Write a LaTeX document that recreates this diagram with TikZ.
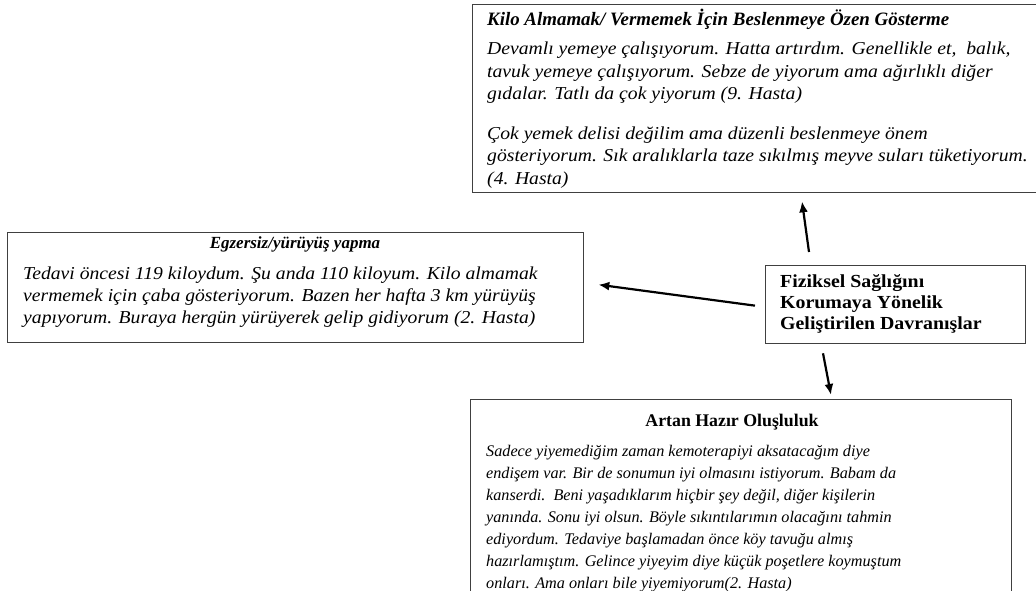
\documentclass[tikz,border=0pt]{standalone}
\usepackage{fontspec}
\setmainfont{Liberation Serif}
\newfontfamily\wideserif[FakeStretch=1.08]{Liberation Serif}
\usetikzlibrary{arrows.meta,calc}
\begin{document}
\begin{tikzpicture}[x=1pt,y=-1pt,
  box/.style={draw=black!75,line width=1.3pt,inner sep=0pt,anchor=north west},
  ln/.style={anchor=base west,inner sep=0pt,font=\wideserif\fontsize{18.2}{22}\selectfont\itshape},
  lns/.style={anchor=base west,inner sep=0pt,font=\fontsize{16.2}{22}\selectfont\itshape},
  hd/.style={anchor=base,inner sep=0pt,font=\fontsize{17.8}{22}\selectfont\bfseries},
  hdl/.style={anchor=base,inner sep=0pt,font=\fontsize{17}{22}\selectfont\bfseries\itshape},
  hdi/.style={anchor=base west,inner sep=0pt,font=\fontsize{18.9}{22}\selectfont\bfseries\itshape},
  cl/.style={anchor=base west,inner sep=0pt,font=\wideserif\fontsize{18.4}{22}\selectfont\bfseries},
  arr/.style={line width=2.2pt,-{Latex[length=11pt,width=9pt]}}]
\useasboundingbox (0,0) rectangle (1036,590);
\clip (0,0) rectangle (1036,590);
% boxes
\node[box,minimum width=580pt,minimum height=188pt] (top) at (472,4) {};
\node[box,minimum width=576pt,minimum height=110pt] (left) at (7,232) {};
\node[box,minimum width=260pt,minimum height=78pt] (c) at (765,265) {};
\node[box,minimum width=541pt,minimum height=220pt] (bot) at (470,399) {};
% top box text
\node[hdi] (t0) at (487,25) {Kilo Almamak/ Vermemek İçin Beslenmeye Özen Gösterme};
\node[ln] (t1) at (487,54) {Devamlı yemeye çalışıyorum. Hatta artırdım. Genellikle et,\ \ balık,};
\node[ln] (t2) at (487,77) {tavuk yemeye çalışıyorum. Sebze de yiyorum ama ağırlıklı diğer};
\node[ln] (t3) at (487,99) {gıdalar. Tatlı da çok yiyorum (9. Hasta)};
\node[ln] (t4) at (487,139) {Çok yemek delisi değilim ama düzenli beslenmeye önem};
\node[ln] (t5) at (487,161) {gösteriyorum. Sık aralıklarla taze sıkılmış meyve suları tüketiyorum.};
\node[ln] (t6) at (487,184) {(4. Hasta)};
% left box text
\node[hdl] (l0) at (295,248) {Egzersiz/yürüyüş yapma};
\node[ln] (l1) at (23,279) {Tedavi öncesi 119 kiloydum. Şu anda 110 kiloyum. Kilo almamak};
\node[ln] (l2) at (23,301) {vermemek için çaba gösteriyorum. Bazen her hafta 3 km yürüyüş};
\node[ln] (l3) at (23,323) {yapıyorum. Buraya hergün yürüyerek gelip gidiyorum (2. Hasta)};
% center box text
\node[cl] (c1) at (780,287) {Fiziksel Sağlığını};
\node[cl] (c2) at (780,308) {Korumaya Yönelik};
\node[cl] (c3) at (780,329) {Geliştirilen Davranışlar};
% bottom box text
\node[hd] (b0) at (732,426) {Artan Hazır Oluşluluk};
\node[lns] (b1) at (486,456) {Sadece yiyemediğim zaman kemoterapiyi aksatacağım diye};
\node[lns] (b2) at (486,478) {endişem var. Bir de sonumun iyi olmasını istiyorum. Babam da};
\node[lns] (b3) at (486,500) {kanserdi.\ \ Beni yaşadıklarım hiçbir şey değil, diğer kişilerin};
\node[lns] (b4) at (486,522) {yanında. Sonu iyi olsun. Böyle sıkıntılarımın olacağını tahmin};
\node[lns] (b5) at (486,544) {ediyordum. Tedaviye başlamadan önce köy tavuğu almış};
\node[lns] (b6) at (486,566) {hazırlamıştım. Gelince yiyeyim diye küçük poşetlere koymuştum};
\node[lns] (b7) at (486,588) {onları. Ama onları bile yiyemiyorum(2. Hasta)};
% arrows
\draw[arr] ($(c.north west)+(44,-13)$) -- ($(top.south west)+(330,8)$);
\draw[arr] ($(c.west)+(-10,1)$) -- ($(left.east)+(14,-3)$);
\draw[arr] ($(c.south west)+(58,9)$) -- ($(bot.north west)+(361,-4)$);
\end{tikzpicture}
\end{document}
